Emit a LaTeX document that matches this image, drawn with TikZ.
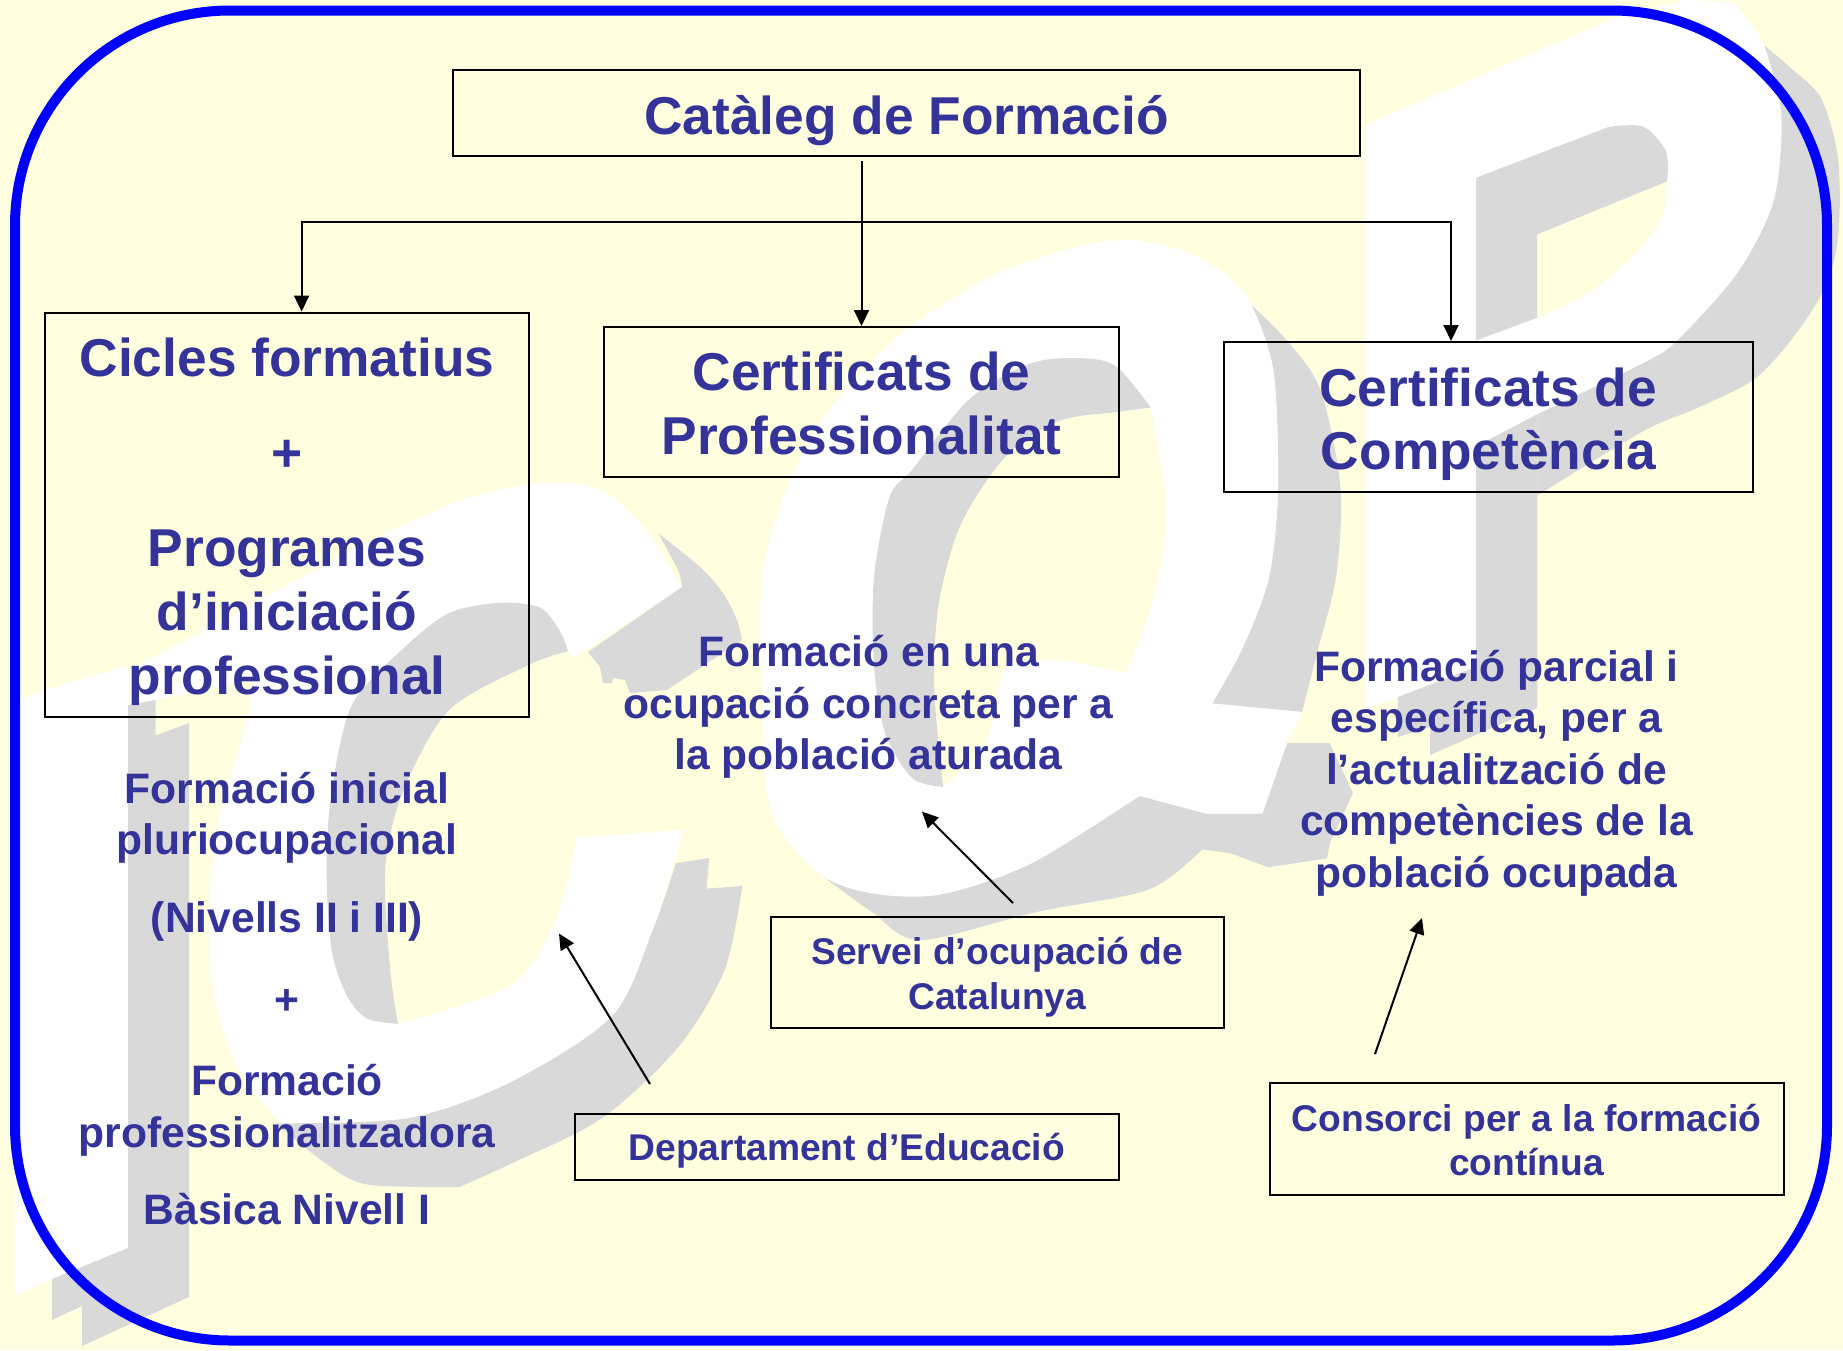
\documentclass[tikz,border=0pt]{standalone}
\usepackage{fontspec}
\setmainfont{Liberation Sans}
\usetikzlibrary{arrows.meta}
\definecolor{bgc}{HTML}{FFFFE0}
\definecolor{wmg}{HTML}{D9D9D9}
\definecolor{txtc}{HTML}{333399}
\newcommand{\topgap}[1]{\rule{0pt}{#1pt}}
\tikzset{
  boxnode/.style={draw=black,line width=2pt,rectangle,inner sep=0pt,align=center,text=txtc,font=\bfseries},
  big/.style={font=\fontsize{53.3}{63.8}\selectfont\bfseries},
  mid/.style={font=\fontsize{42.6}{51.4}\selectfont\bfseries},
  small/.style={font=\fontsize{37.2}{44.7}\selectfont\bfseries},
  freetext/.style={inner sep=0pt,align=center,text=txtc},
  tip/.style={-{Triangle[length=16pt,width=15pt]},line width=2pt},
  tiptwo/.style={{Triangle[length=16pt,width=15pt]}-{Triangle[length=16pt,width=15pt]},line width=2pt},
  wm/.style={fill=white},
  wg/.style={fill=wmg},
  wy/.style={fill=bgc}
}
\begin{document}
\begin{tikzpicture}[x=1pt,y=-1pt]
\useasboundingbox (0,0) rectangle (1843,1350);
\fill[bgc] (0,0) rectangle (1843,1350);

% --- watermark: I
\fill[wm] (15,700) -- (128,665) -- (128,1248) -- (15,1295) -- cycle;
\fill[wg] (128,705) -- (155.6,697) -- (155.6,735.5) -- (189,723) -- (189,1297) -- (82,1346) -- (82,1306) -- (52,1320) -- (52,1279) -- (128,1248) -- cycle;

% --- watermark: C (zoom 7 frame)
\begin{scope}[shift={(0pt,-460pt)},x=.5102pt,y=-.5102pt]
\fill[wm] (252,410) -- (400,335) -- (700,170) -- plot[smooth] coordinates {(700,170) (900,80) (1060,45) (1180,60) (1270,140) (1315,215) (1337,249)} -- (1123,388) -- (1130,740) -- (1340,725) -- plot[smooth] coordinates {(1340,725) (1280,920) (1200,1090) (1000,1220) (800,1290) (560,1310)} -- plot[smooth] coordinates {(560,1310) (470,1200) (420,1050) (410,880) (430,700) (470,560) (500,430)} -- (305,470) -- (252,480) -- cycle;
\fill[wg] plot[smooth] coordinates {(540,1300) (800,1290) (1000,1220) (1200,1090) (1280,920) (1325,790)} -- (1390,780) -- (1385,840) -- (1455,835) -- plot[smooth] coordinates {(1455,835) (1420,1000) (1330,1150) (1180,1290) (1000,1380) (900,1425)} -- plot[smooth] coordinates {(900,1425) (720,1420) (640,1380) (540,1300)} -- cycle;
\fill[wy] plot[smooth] coordinates {(780,1105) (1000,1030) (1090,900) (1130,740)} -- (1123,388) -- plot[smooth] coordinates {(1113,375) (1040,400) (880,490) (790,650) (755,800) (765,1000) (780,1105)} -- cycle;
\fill[wg] plot[smooth] coordinates {(1113,375) (1040,400) (880,490) (790,650) (755,800) (765,1000) (780,1105)} -- plot[smooth] coordinates {(780,1105) (720,1095) (680,1050) (650,960) (640,800) (650,650) (690,480) (790,370) (880,300) (980,280) (1060,290) (1100,340) (1113,375)} -- cycle;
\end{scope}
% C: shadow of the upper tip
\fill[wg] (658,533) -- plot[smooth] coordinates {(658,533) (700,567) (723,593) (737,620) (742,640)} -- (697,670) -- (667,690) -- (630,693) -- (625,680) -- (613,678) -- (612,683) -- (603,683) -- (600,667) -- (588,652) -- (682,587) -- plot[smooth] coordinates {(682,587) (678,570) (658,533)} -- cycle;

% --- watermark: Q (zoom 5 frame)
\begin{scope}[shift={(720pt,-220pt)},x=.4464pt,y=-.4464pt]
\fill[wg] (230,1470) -- (350,1510) -- (940,1290) -- (1090,1330) -- (1215,1330) -- (1270,1172) -- (1366,1172) -- (1418,1284) -- (1366,1396) -- (1360,1430) -- (1228,1450) -- (1142,1418) -- (1080,1410) -- plot[smooth] coordinates {(1080,1410) (960,1500) (710,1550) (448,1613) (340,1550) (230,1470)} -- cycle;
\fill[wg] plot[smooth] coordinates {(1190,190) (1270,270) (1345,380) (1390,600) (1380,800) (1340,960) (1304,1102)} -- (1102,1083) -- plot[smooth] coordinates {(1102,1083) (1170,960) (1230,800) (1250,600) (1240,340) (1190,190)} -- cycle;
\fill[wm] plot[smooth] coordinates {(100,1250) (90,900) (100,760) (150,600) (240,430) (400,260) (600,130) (800,60) (920,45) (1040,70) (1130,120) (1190,190) (1240,340) (1250,600) (1230,800) (1170,960) (1102,1083)} -- (1304,1102) -- (1270,1172) -- (1215,1330) -- (1090,1330) -- (940,1290) -- plot[smooth] coordinates {(940,1290) (700,1440) (500,1510) (350,1510) (230,1470) (130,1360) (100,1250)} -- cycle;
\fill[wy] plot[smooth] coordinates {(965,420) (1000,650) (970,850) (910,1015)} -- plot[smooth] coordinates {(910,1015) (750,985) (640,1000) (620,1080) (590,1180) (500,1270)} -- plot[smooth] coordinates {(500,1270) (480,1050) (490,860) (540,680) (640,530) (760,450) (890,430) (965,420)} -- cycle;
\fill[wg] plot[smooth] coordinates {(965,420) (890,430) (760,450) (640,530) (540,680) (490,860) (480,1050) (500,1270)} -- plot[smooth] coordinates {(500,1270) (430,1250) (370,1150) (345,1000) (345,800) (380,620) (430,560) (560,400) (700,320) (820,310) (890,330) (965,420)} -- cycle;
\end{scope}

% --- watermark: P (zoom 6 frame)
\begin{scope}[shift={(1250pt,0pt)},x=.3782pt,y=-.3782pt]
\fill[wm] (305,330) -- (960,50) -- (1150,0) -- (1280,5) -- plot[smooth] coordinates {(1280,5) (1360,120) (1405,300) (1385,530) (1290,720) (1130,900) (1040,960) (760,1095)} -- (598,1180) -- (598,1763) -- (391,1843) -- (305,1875) -- cycle;
\fill[wg] (598,470) -- (950,335) -- plot[smooth] coordinates {(950,335) (1040,335) (1100,400) (1103,480)} -- (760,620) -- (760,840) -- (598,900) -- cycle;
\fill[wy] (760,620) -- (1103,480) -- plot[smooth] coordinates {(1103,480) (1090,570) (1020,670) (900,770) (760,840)} -- cycle;
\fill[wg] (598,1180) -- (760,1095) -- (760,1872) -- (476,1996) -- (476,1922) -- (391,1949) -- (391,1843) -- (598,1763) -- cycle;
\fill[wg] plot[smooth] coordinates {(1360,120) (1430,180) (1510,260) (1555,420) (1555,630) (1515,770) (1430,900) (1330,1005) (1180,1080) (1040,1140) (760,1310)} -- (760,1095) -- plot[smooth] coordinates {(760,1095) (1040,960) (1130,900) (1290,720) (1385,530) (1405,300) (1360,120)} -- cycle;
\end{scope}

% --- frame
\draw[blue,line width=10pt,rounded corners=215pt] (15,10.5) rectangle (1827,1340.5);

% --- boxes
\node[boxnode,big,minimum width=907pt,minimum height=86pt] (title) at (906.5,113) {\topgap{54}Catàleg de Formació};
\node[boxnode,big,minimum width=484.5pt,minimum height=404.5pt] (cicles) at (287,514.8) {\topgap{52}Cicles formatius\\[31.5pt]+\\[31.5pt]Programes\\d’iniciació\\professional};
\node[boxnode,big,minimum width=515pt,minimum height=150pt] (prof) at (861.5,402) {\topgap{41}Certificats de\\Professionalitat};
\node[boxnode,big,minimum width=528.5pt,minimum height=150pt] (comp) at (1488.3,417) {\topgap{53}Certificats de\\Competència};
\node[boxnode,small,minimum width=453.5pt,minimum height=111pt] (servei) at (997.3,972.5) {\topgap{37}Servei d’ocupació de\\Catalunya};
\node[boxnode,small,minimum width=544.5pt,minimum height=66pt] (dept) at (846.8,1147) {\topgap{35}Departament d’Educació};
\node[boxnode,small,minimum width=514pt,minimum height=111.5pt] (cons) at (1526.5,1139.2) {\topgap{29}Consorci per a la formació\\contínua};

% --- free text
\node[freetext,mid] (left) at (287,998.5) {Formació inicial\\pluriocupacional\\[26pt](Nivells II i III)\\[31pt]+\\[30pt]Formació\\professionalitzadora\\[26pt]Bàsica Nivell I};
\node[freetext,mid] (tmid) at (868.5,707) {Formació en una\\ocupació concreta per a\\la població aturada};
\node[freetext,mid] (tright) at (1496.5,773) {Formació parcial i\\específica, per a\\l’actualització de\\competències de la\\població ocupada};

% --- connectors
\coordinate (stem) at (861.5,161);
\coordinate (bL) at (301.6,221.5);
\coordinate (bR) at (1451,221.5);
\coordinate (aD) at (650,1084);
\coordinate (aDend) at (559,933.5);
\coordinate (aS) at (1013,903);
\coordinate (aSend) at (922,811.6);
\coordinate (aC) at (1375,1054);
\coordinate (aCend) at (1422,918);
\draw[tip] (stem) -- (prof.north);
\draw[tiptwo] (bL |- cicles.north) -- (bL) -- (bR) -- (bR |- comp.north);
\draw[tip] (aD) -- (aDend);
\draw[tip] (aS) -- (aSend);
\draw[tip] (aC) -- (aCend);
\end{tikzpicture}
\end{document}
